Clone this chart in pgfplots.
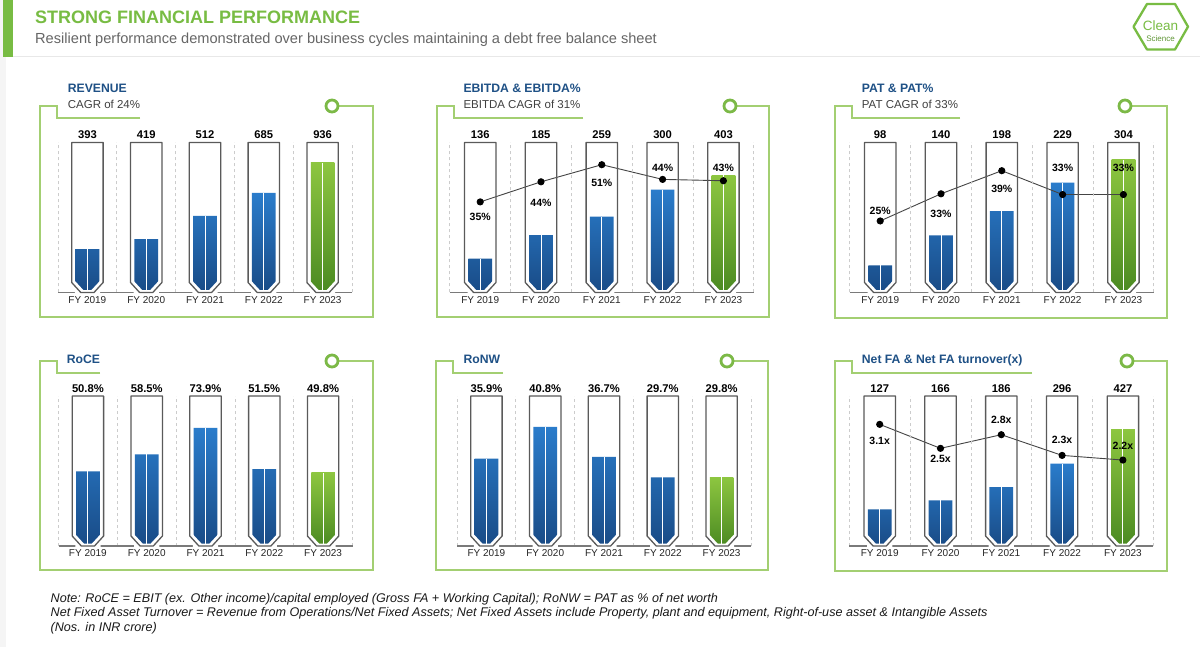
\documentclass[border=0pt]{standalone}
\usepackage{pgfplots}
\pgfplotsset{compat=1.18}
\usepackage{pgfplotstable}
\usepackage{fontspec}
\setmainfont{Liberation Sans}

\definecolor{hdrgreen}{HTML}{78BC43}
\definecolor{frgreen}{HTML}{A3CF72}
\definecolor{circgreen}{HTML}{7CB947}
\definecolor{ttlblue}{HTML}{1F5186}
\definecolor{subgray}{HTML}{404040}
\definecolor{bartop}{HTML}{2A7CCB}
\definecolor{barbot}{HTML}{194B86}
\definecolor{grtop}{HTML}{8DC640}
\definecolor{grbot}{HTML}{4B8A22}
\definecolor{tubegray}{HTML}{5A5A5A}
\definecolor{axisgray}{HTML}{7A7A7A}
\definecolor{linegray}{HTML}{444444}

\newcommand\ttlfont{\bfseries\fontsize{12.2}{14}\selectfont}
\newcommand\subfont{\fontsize{11.5}{13}\selectfont}
\newcommand\valfont{\bfseries\fontsize{11.2}{13}\selectfont}
\newcommand\lblfont{\bfseries\fontsize{10.5}{12}\selectfont}
\newcommand\notefont{\itshape\fontsize{12.6}{14}\selectfont}

\pgfdeclareplotmark{tube}{%
  \pgfsetfillcolor{white}%
  \pgfpathmoveto{\pgfqpoint{-12.6pt}{-151pt}}%
  \pgfpathlineto{\pgfqpoint{-12.6pt}{-138.3pt}}%
  \pgfpathlineto{\pgfqpoint{-4pt}{-147.6pt}}%
  \pgfpathlineto{\pgfqpoint{4pt}{-147.6pt}}%
  \pgfpathlineto{\pgfqpoint{12.6pt}{-138.3pt}}%
  \pgfpathlineto{\pgfqpoint{12.6pt}{-151pt}}%
  \pgfpathclose
  \pgfusepathqfill
  \pgfsetstrokecolor{tubegray}%
  \pgfsetlinewidth{1.3pt}%
  \pgfsetroundjoin
  \pgfpathmoveto{\pgfqpoint{-15.7pt}{0pt}}%
  \pgfpathlineto{\pgfqpoint{-15.7pt}{-140pt}}%
  \pgfpathlineto{\pgfqpoint{-6.6pt}{-150pt}}%
  \pgfpathlineto{\pgfqpoint{6.6pt}{-150pt}}%
  \pgfpathlineto{\pgfqpoint{15.7pt}{-140pt}}%
  \pgfpathlineto{\pgfqpoint{15.7pt}{0pt}}%
  \pgfpathclose
  \pgfusepathqstroke
}

\pgfplotsset{
  panel/.style={
    scale only axis, height=150pt, anchor=south west,
    xmin=-0.5, xmax=4.5, ymin=0, ymax=100, clip=false, axis on top,
    axis x line=bottom, axis y line=none,
    axis line style={-, draw=axisgray, line width=1.2pt},
    xtick={0,1,2,3,4}, xticklabels={FY 2019,FY 2020,FY 2021,FY 2022,FY 2023},
    major tick length=0pt, minor tick length=0pt,
    xticklabel style={font=\fontsize{10}{11}\selectfont, text=black!85},
    minor xtick={-0.5,0.5,1.5,2.5,3.5,4.5}, xminorgrids,
    minor grid style={draw=gray!40, line width=0.7pt, dash pattern=on 3pt off 3pt},
  },
  bluebar/.style={ybar, bar width=23.7pt, bar shift=0pt, draw=none,
    top color=bartop, bottom color=barbot, restrict x to domain=0:3},
  greenbar/.style={ybar, bar width=23.7pt, bar shift=0pt, draw=none,
    top color=grtop, bottom color=grbot, restrict x to domain=4:4},
  midline/.style={ycomb, draw=white, line width=1pt, mark=none},
  tubes/.style={only marks, mark=tube, point meta=explicit symbolic,
    nodes near coords,
    nodes near coords style={font=\valfont, anchor=south, inner sep=0pt, yshift=3pt, text=black}},
  ratio/.style={draw=linegray, line width=0.9pt, mark=*, mark size=3.1pt,
    mark options={fill=black, draw=black}, point meta=explicit symbolic,
    visualization depends on={\thisrow{dy}\as\dy},
    nodes near coords style={font=\lblfont, anchor=center, inner sep=0pt, yshift=\dy, text=black}},
}

% ---------- data ----------
\pgfplotstableread{
x lvl top val
0 28.9 100 393
1 35.6 100 419
2 51.0 100 512
3 66.4 100 685
4 86.6 100 936
}\revT
\pgfplotstableread{
x lvl top val
0 22.6 100 136
1 38.3 100 185
2 50.5 100 259
3 68.5 100 300
4 78.3 100 403
}\ebT
\pgfplotstableread{
x lvl lab dy
0 60.4 35 -14.7
1 73.8 44 -21.3
2 85.2 51 -18.3
3 75.4 44 11.3
4 74.5 43 13.3
}\ebL
\pgfplotstableread{
x lvl top val
0 18.1 100 98
1 38.0 100 140
2 54.2 100 198
3 73.2 100 229
4 88.6 100 304
}\patT
\pgfplotstableread{
x lvl lab dy
0 47.7 25 10.3
1 65.8 33 -20
2 81.2 39 -18
3 65.3 33 27
4 65.3 33 27
}\patL
\pgfplotstableread{
x lvl top val
0 49.8 100 50.8
1 61.1 100 58.5
2 78.7 100 73.9
3 51.3 100 51.5
4 48.7 100 49.8
}\roceT
\pgfplotstableread{
x lvl top val
0 58.2 100 35.9
1 79.5 100 40.8
2 59.5 100 36.7
3 45.8 100 29.7
4 45.8 100 29.8
}\ronwT
\pgfplotstableread{
x lvl top val
0 24.5 100 127
1 30.5 100 166
2 39.3 100 186
3 54.9 100 296
4 77.8 100 427
}\faT
\pgfplotstableread{
x lvl lab dy
0 81.1 3.1 -16.7
1 65.1 2.5 -11
2 74.2 2.8 14.7
3 60.4 2.3 15.3
4 57.3 2.2 14.3
}\faL

\newcommand\panelframe[7]{%
  \draw[frgreen, line width=1.6pt] (#6,#3+12) -- (#5,#3+12) -- (#5,#3) -- (#1,#3) -- (#1,#4) -- (#2,#4) -- (#2,#3) -- (#7,#3);
  \draw[circgreen, line width=2.8pt, fill=white] (#7,#3) circle[radius=6pt];
}

\begin{document}
\begin{tikzpicture}
\begin{scope}[x=1pt,y=-1pt]
\useasboundingbox (0,0) rectangle (1200,647);
\fill[white] (0,0) rectangle (1200,647);
\fill[gray!8] (0,0) rectangle (6,647);
\fill[hdrgreen] (3,0) rectangle (13,57);
\draw[gray!18, line width=1pt] (13,56.5) -- (1200,56.5);
\node[anchor=base west, inner sep=0, text=hdrgreen, font=\bfseries\fontsize{18}{20}\selectfont] at (35,24) {STRONG FINANCIAL PERFORMANCE};
\node[anchor=base west, inner sep=0, text=black!60, font=\fontsize{14.6}{16}\selectfont] at (35,43.5) {Resilient performance demonstrated over business cycles maintaining a debt free balance sheet};
% logo
\draw[hdrgreen, line width=2.3pt, line join=round] (1133.5,26.7) -- (1147,4) -- (1175,4) -- (1188,26.7) -- (1175,49.5) -- (1147,49.5) -- cycle;
\node[text=hdrgreen, font=\fontsize{13.5}{14}\selectfont, inner sep=0] at (1160.5,26) {Clean};
\node[text=hdrgreen!80!black, font=\fontsize{8}{9}\selectfont, inner sep=0] at (1160.5,38.5) {Science};
% frames
\panelframe{40}{373}{106}{317}{57}{140}{332}
\panelframe{437}{769}{106}{317}{454}{583}{730}
\panelframe{835}{1167}{106}{318}{852}{960}{1125}
\panelframe{40}{373}{361}{570}{57}{100}{332}
\panelframe{436}{768}{361}{570}{453}{503}{727}
\panelframe{835}{1167}{361}{571}{852}{1032}{1127}
% titles
\node[anchor=base west, inner sep=0, text=ttlblue, font=\ttlfont] at (67.7,93) {REVENUE};
\node[anchor=base west, inner sep=0, text=subgray, font=\subfont] at (67.7,108.3) {CAGR of 24\%};
\node[anchor=base west, inner sep=0, text=ttlblue, font=\ttlfont] at (463.3,93) {EBITDA \& EBITDA\%};
\node[anchor=base west, inner sep=0, text=subgray, font=\subfont] at (463.3,108.3) {EBITDA CAGR of 31\%};
\node[anchor=base west, inner sep=0, text=ttlblue, font=\ttlfont] at (861.7,93) {PAT \& PAT\%};
\node[anchor=base west, inner sep=0, text=subgray, font=\subfont] at (861.7,108.3) {PAT CAGR of 33\%};
\node[anchor=base west, inner sep=0, text=ttlblue, font=\ttlfont] at (66.7,363.3) {RoCE};
\node[anchor=base west, inner sep=0, text=ttlblue, font=\ttlfont] at (463.3,363.3) {RoNW};
\node[anchor=base west, inner sep=0, text=ttlblue, font=\ttlfont] at (861.7,363.3) {Net FA \& Net FA turnover(x)};
% footnote
\node[anchor=base west, inner sep=0, text=black!90, font=\notefont] at (50.5,602) {Note: RoCE = EBIT (ex. Other income)/capital employed (Gross FA + Working Capital); RoNW = PAT as \% of net worth};
\node[anchor=base west, inner sep=0, text=black!90, font=\notefont] at (50.5,616.5) {Net Fixed Asset Turnover = Revenue from Operations/Net Fixed Assets; Net Fixed Assets include Property, plant and equipment, Right-of-use asset \& Intangible Assets};
\node[anchor=base west, inner sep=0, text=black!90, font=\notefont] at (50.5,631) {(Nos. in INR crore)};
\end{scope}

% ---------- Revenue ----------
\begin{axis}[panel, at={(58pt,-292.5pt)}, width=294pt]
\addplot[bluebar] table[x=x,y=lvl]{\revT};
\addplot[greenbar] table[x=x,y=lvl]{\revT};
\addplot[midline] table[x=x,y=lvl]{\revT};
\addplot[tubes] table[x=x,y=top,meta=val]{\revT};
\end{axis}
% ---------- EBITDA ----------
\begin{axis}[panel, at={(449.8pt,-292.5pt)}, width=304pt]
\addplot[bluebar] table[x=x,y=lvl]{\ebT};
\addplot[greenbar] table[x=x,y=lvl]{\ebT};
\addplot[midline] table[x=x,y=lvl]{\ebT};
\addplot[tubes] table[x=x,y=top,meta=val]{\ebT};
\addplot[ratio, nodes near coords={\pgfplotspointmeta\%}] table[x=x,y=lvl,meta=lab]{\ebL};
\end{axis}
% ---------- PAT ----------
\begin{axis}[panel, at={(849.8pt,-292.5pt)}, width=304pt]
\addplot[bluebar] table[x=x,y=lvl]{\patT};
\addplot[greenbar] table[x=x,y=lvl]{\patT};
\addplot[midline] table[x=x,y=lvl]{\patT};
\addplot[tubes] table[x=x,y=top,meta=val]{\patT};
\addplot[ratio, nodes near coords={\pgfplotspointmeta\%}] table[x=x,y=lvl,meta=lab]{\patL};
\end{axis}
% ---------- RoCE ----------
\begin{axis}[panel, at={(58.5pt,-546pt)}, width=294pt]
\addplot[bluebar] table[x=x,y=lvl]{\roceT};
\addplot[greenbar] table[x=x,y=lvl]{\roceT};
\addplot[midline] table[x=x,y=lvl]{\roceT};
\addplot[tubes, nodes near coords={\pgfplotspointmeta\%}] table[x=x,y=top,meta=val]{\roceT};
\end{axis}
% ---------- RoNW ----------
\begin{axis}[panel, at={(457pt,-546pt)}, width=294pt]
\addplot[bluebar] table[x=x,y=lvl]{\ronwT};
\addplot[greenbar] table[x=x,y=lvl]{\ronwT};
\addplot[midline] table[x=x,y=lvl]{\ronwT};
\addplot[tubes, nodes near coords={\pgfplotspointmeta\%}] table[x=x,y=top,meta=val]{\ronwT};
\end{axis}
% ---------- Net FA ----------
\begin{axis}[panel, at={(849.3pt,-546pt)}, width=304pt]
\addplot[bluebar] table[x=x,y=lvl]{\faT};
\addplot[greenbar] table[x=x,y=lvl]{\faT};
\addplot[midline] table[x=x,y=lvl]{\faT};
\addplot[tubes] table[x=x,y=top,meta=val]{\faT};
\addplot[ratio, nodes near coords={\pgfplotspointmeta x}] table[x=x,y=lvl,meta=lab]{\faL};
\end{axis}
\end{tikzpicture}
\end{document}
